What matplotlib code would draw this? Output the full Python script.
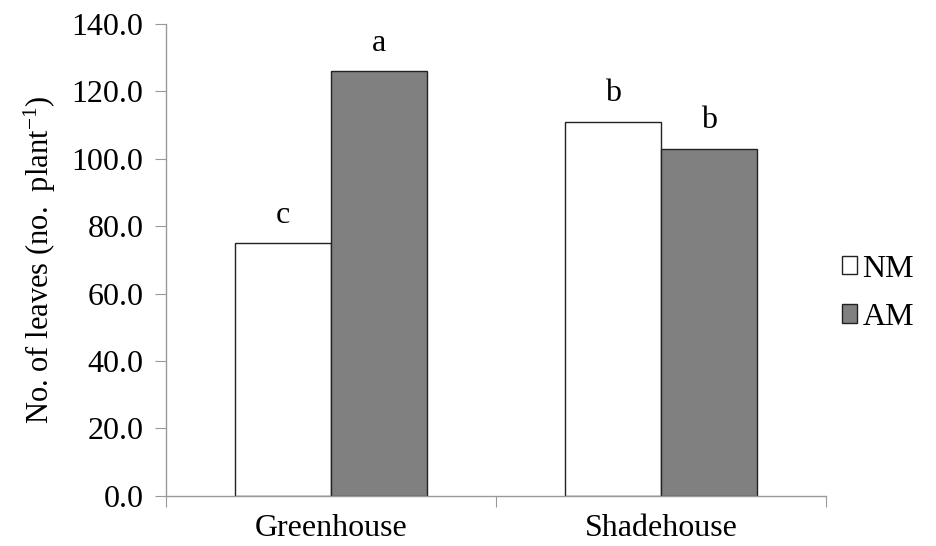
import matplotlib
matplotlib.use("Agg")
import matplotlib.pyplot as plt
import numpy as np
from matplotlib.patches import Patch

categories = ["Greenhouse", "Shadehouse"]
series_names = ["NM", "AM"]
nm_values = [75.0, 111.0]
am_values = [126.0, 103.0]
nm_letters = ["c", "b"]
am_letters = ["a", "b"]
yticks = [0, 20, 40, 60, 80, 100, 120, 140]

plt.rcParams['font.family'] = ['Liberation Serif', 'DejaVu Serif']
plt.rcParams['mathtext.fontset'] = 'custom'
plt.rcParams['mathtext.rm'] = 'Liberation Serif'
plt.rcParams['mathtext.default'] = 'rm'

FS = 23

fig = plt.figure(figsize=(9.36, 5.46), dpi=100)
ax = fig.add_axes([0.177, 0.092, 0.706, 0.864])

x = np.arange(len(categories)) + 0.5
w = 0.29
gray = "#808080"
ax.bar(x - w/2, nm_values, w, color="white", edgecolor="#222222", linewidth=1.0)
ax.bar(x + w/2, am_values, w, color=gray, edgecolor="#222222", linewidth=1.0)

for xi, v, t in zip(x - w/2, nm_values, nm_letters):
    ax.text(xi, v + 4, t, ha="center", va="bottom", fontsize=FS)
for xi, v, t in zip(x + w/2, am_values, am_letters):
    ax.text(xi, v + 4, t, ha="center", va="bottom", fontsize=FS)

ax.set_xlim(0, 2)
ax.set_ylim(0, 140)
ax.set_yticks(yticks)
ax.set_yticklabels([f"{t:.1f}" for t in yticks], fontsize=FS)
ax.set_xticks([0, 1, 2])
ax.set_xticklabels([])
ax.set_xticks(x, minor=True)
ax.set_xticklabels(categories, minor=True, fontsize=FS)
ax.tick_params(axis="x", which="minor", length=0, pad=13)
ax.tick_params(axis="x", which="major", length=8, color="#999999", direction="out")
ax.tick_params(axis="y", length=8, color="#999999", direction="out", pad=8)

for s in ["top", "right"]:
    ax.spines[s].set_visible(False)
for s in ["left", "bottom"]:
    ax.spines[s].set_color("#999999")
    ax.spines[s].set_linewidth(1.0)

ax.set_ylabel("No. of leaves (no.  plant$^{-1}$)", fontsize=22, labelpad=10)

handles = [Patch(facecolor="white", edgecolor="#222222", label=series_names[0]),
           Patch(facecolor=gray, edgecolor="#222222", label=series_names[1])]
fig.legend(handles=handles, loc="center left", bbox_to_anchor=(0.882, 0.463),
           frameon=False, fontsize=FS, handlelength=0.5, handleheight=0.5,
           handletextpad=0.15, labelspacing=0.6, borderpad=0)

fig.savefig("out.png", dpi=100)
